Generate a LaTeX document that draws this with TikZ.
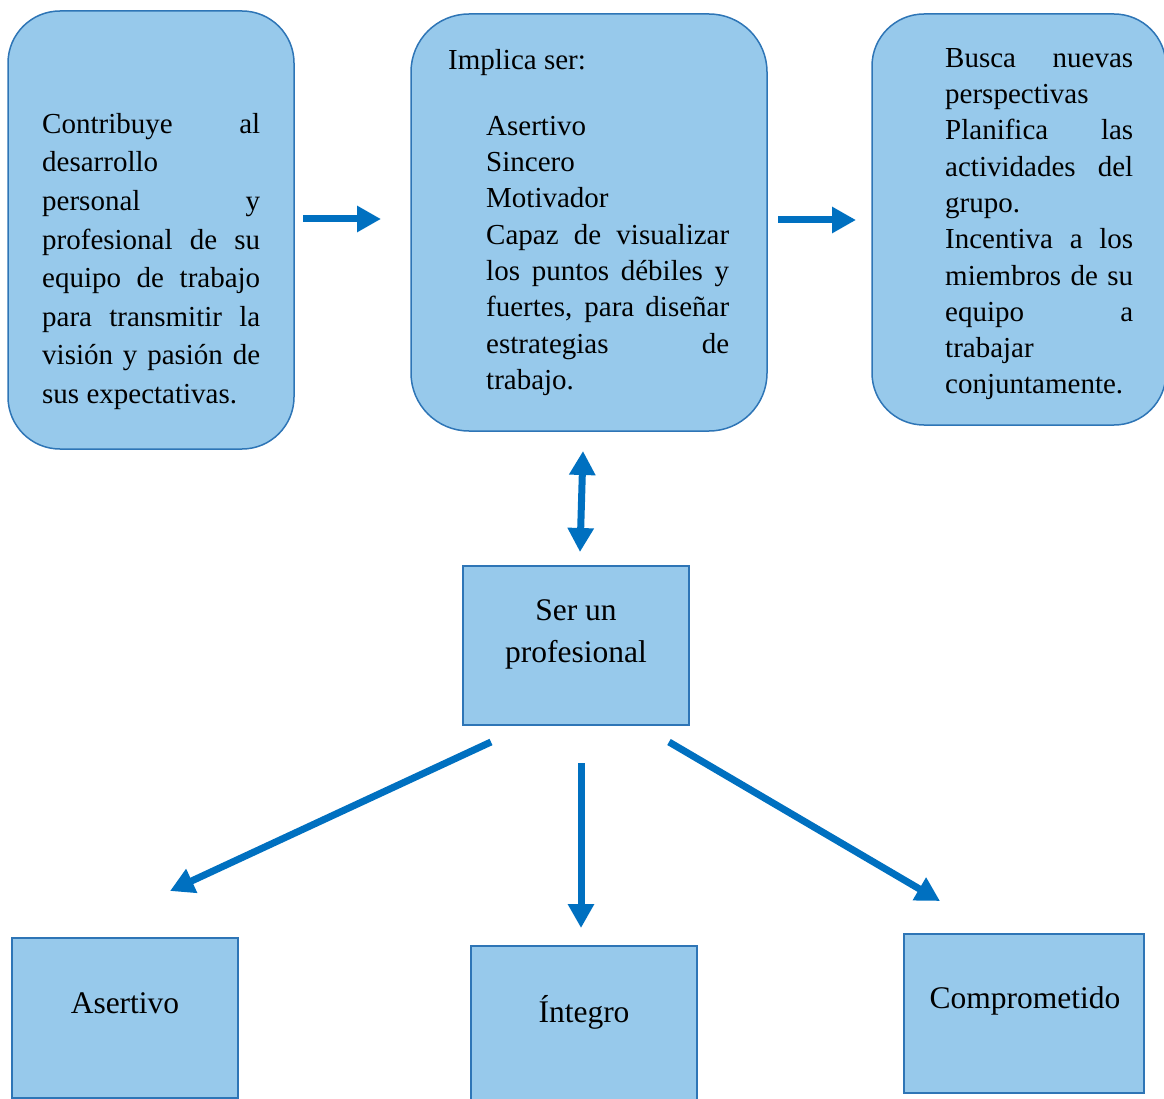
\documentclass[tikz,border=0pt]{standalone}
\usepackage{fontspec}
\setmainfont{Liberation Serif}
\usetikzlibrary{arrows.meta}
\definecolor{boxfill}{HTML}{97C9EB}
\definecolor{boxline}{HTML}{2E75B6}
\definecolor{arrowblue}{HTML}{0070C0}
% a line spread to a given width
\newcommand\jl[2]{\makebox[#1][s]{#2}}

\begin{document}
\begin{tikzpicture}[x=1pt,y=-1pt,
  roundbox/.style={draw=boxline,fill=boxfill,line width=1.5pt,inner sep=0pt},
  sqbox/.style={draw=boxline,fill=boxfill,line width=1.5pt,inner sep=0pt},
  bigarrow/.style={draw=arrowblue,line width=7pt,-{Triangle[length=24pt,width=25pt]}},
  twoarrow/.style={draw=arrowblue,line width=7pt,{Triangle[length=24pt,width=25pt]}-{Triangle[length=24pt,width=25pt]}},
  bodyA/.style={anchor=north west,inner sep=0pt,align=left,font=\fontsize{29}{38.6}\selectfont},
  bodyB/.style={anchor=north west,inner sep=0pt,align=left,font=\fontsize{29}{36.3}\selectfont},
  single/.style={anchor=base,inner sep=0pt,font=\fontsize{31.5}{42}\selectfont},
]
\useasboundingbox (0,0) rectangle (1164,1099);

% upper row of rounded boxes
\node[roundbox,rounded corners=52pt,minimum width=286pt,minimum height=438pt] (b1) at (151,230) {};
\node[roundbox,rounded corners=58pt,minimum width=356pt,minimum height=417pt] (b2) at (589,222.5) {};
\node[roundbox,rounded corners=52pt,minimum width=294pt,minimum height=411pt] (b3) at (1019,219.5) {};

\node[bodyA] (t1) at (42,106) {\strut\jl{218pt}{Contribuye al}\\
desarrollo\\
\jl{218pt}{personal y}\\
\jl{218pt}{profesional de su}\\
\jl{218pt}{equipo de trabajo}\\
\jl{218pt}{para transmitir la}\\
\jl{218pt}{visión y pasión de}\\
sus expectativas.};

\node[anchor=base west,inner sep=0pt,font=\fontsize{29}{36.3}\selectfont] (t2a) at (448,70) {Implica ser:};
\node[bodyB] (t2b) at (486,109.6) {\strut Asertivo\\
Sincero\\
Motivador\\
\jl{243pt}{Capaz de visualizar}\\
\jl{243pt}{los puntos débiles y}\\
\jl{243pt}{fuertes, para diseñar}\\
\jl{243pt}{estrategias de}\\
trabajo.};

\node[bodyB] (t3) at (945,41.6) {\strut\jl{188pt}{Busca nuevas}\\
perspectivas\\
\jl{188pt}{Planifica las}\\
\jl{188pt}{actividades del}\\
grupo.\\
\jl{188pt}{Incentiva a los}\\
\jl{188pt}{miembros de su}\\
\jl{188pt}{equipo a}\\
trabajar\\
conjuntamente.};

% central box
\node[sqbox,minimum width=226pt,minimum height=159pt] (c) at (576,645.5) {};
\node[anchor=north,inner sep=0pt,align=center,font=\fontsize{31.5}{42}\selectfont] (tc) at (576,590.6) {\strut Ser un\\profesional};

% lower row of boxes
\node[sqbox,minimum width=226pt,minimum height=160pt] (d1) at (125,1018) {};
\node[sqbox,minimum width=226pt,minimum height=164pt] (d2) at (584,1028) {};
\node[sqbox,minimum width=240pt,minimum height=159pt] (d3) at (1024,1013.5) {};
\node[single] (td1) at (125,1013) {Asertivo};
\node[single] (td2) at (584,1022) {Íntegro};
\node[single] (td3) at (1025,1008) {Comprometido};

% arrow ends
\coordinate (p12s) at (303,219);
\coordinate (p12e) at (381,219);
\coordinate (p23s) at (778,220);
\coordinate (p23e) at (856,220);
\coordinate (pvt) at (583,451);
\coordinate (pvb) at (580,552);
\coordinate (pls) at (491,742);
\coordinate (ple) at (170,891);
\coordinate (pms) at (581,763);
\coordinate (pme) at (581,928);
\coordinate (prs) at (669,742);
\coordinate (pre) at (940,901);

\draw[bigarrow] (p12s) -- (p12e);
\draw[bigarrow] (p23s) -- (p23e);
\draw[twoarrow] (pvt) -- (pvb);
\draw[bigarrow] (pls) -- (ple);
\draw[bigarrow] (pms) -- (pme);
\draw[bigarrow] (prs) -- (pre);
\end{tikzpicture}
\end{document}
